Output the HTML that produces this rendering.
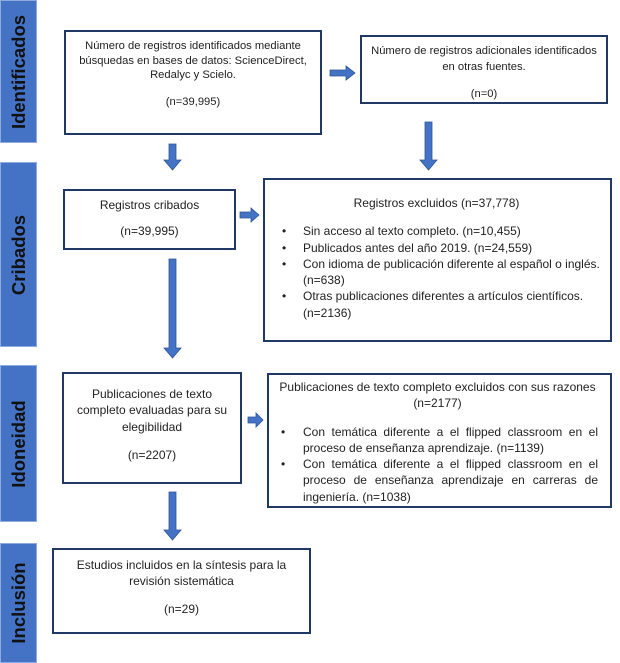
<!DOCTYPE html>
<html><head><meta charset="utf-8"><style>
body{margin:0;width:620px;height:663px;background:#fff;position:relative;overflow:hidden;font-family:"Liberation Sans",sans-serif;color:#222}
.bar{position:absolute;left:0;width:37px;background:#4472C4;border:1px solid #8faadc;box-sizing:border-box}
.bar span{position:absolute;left:50%;top:50%;transform:translate(-50%,-50%) rotate(-90deg);white-space:nowrap;font-weight:bold;font-size:18.5px;color:#111}
.box{position:absolute;border:2.5px solid #1F3864;box-sizing:border-box;font-size:12px;line-height:16.3px;text-align:center;padding:6px 6px}
.box p{margin:0}
ul{margin:4px 0 0 0;padding-left:0;list-style:none;text-align:left}
li{position:relative;padding-left:32px}
li:before{content:"•";position:absolute;left:11px}
.j li{text-align:justify;padding-left:28px}
.j li:before{left:6px}
svg{position:absolute;left:0;top:0}
</style></head><body>
<div class="bar" style="top:0;height:143px"><span>Identificados</span></div>
<div class="bar" style="top:162px;height:185px"><span>Cribados</span></div>
<div class="bar" style="top:365px;height:157px"><span>Idoneidad</span></div>
<div class="bar" style="top:543px;height:120px"><span>Inclusión</span></div>

<div class="box" style="left:64px;top:30px;width:258px;height:105px;padding-top:7px;font-size:11.2px;line-height:14.7px"><p>Número de registros identificados mediante búsquedas en bases de datos: ScienceDirect, Redalyc y Scielo.</p><p style="margin-top:12px">(n=39,995)</p></div>
<div class="box" style="left:360px;top:35px;width:248px;height:69px;padding-top:7px;font-size:11.2px;line-height:15.5px"><p>Número de registros adicionales identificados en otras fuentes.</p><p style="margin-top:12px">(n=0)</p></div>
<div class="box" style="left:63px;top:189px;width:173px;height:61px;padding-top:6px"><p>Registros cribados</p><p style="margin-top:10px">(n=39,995)</p></div>
<div class="box" style="left:263px;top:178px;width:349px;height:164px;padding-top:15px;padding-right:8px"><p>Registros excluidos (n=37,778)</p><ul style="margin-top:12px">
<li>Sin acceso al texto completo. (n=10,455)</li>
<li>Publicados antes del año 2019. (n=24,559)</li>
<li>Con idioma de publicación diferente al español o inglés. (n=638)</li>
<li>Otras publicaciones diferentes a artículos científicos. (n=2136)</li></ul></div>
<div class="box" style="left:62px;top:372px;width:180px;height:112px;padding-top:12px"><p>Publicaciones de texto completo evaluadas para su elegibilidad</p><p style="margin-top:12px">(n=2207)</p></div>
<div class="box j" style="left:267px;top:373px;width:345px;height:135px;padding:4px 10px 0 6px;overflow:hidden"><p>Publicaciones de texto completo excluidos con sus razones (n=2177)</p><ul style="margin-top:12px;padding-right:2px">
<li>Con temática diferente a el flipped classroom en el proceso de enseñanza aprendizaje. (n=1139)</li>
<li>Con temática diferente a el flipped classroom en el proceso de enseñanza aprendizaje en carreras de ingeniería. (n=1038)</li></ul></div>
<div class="box" style="left:52px;top:548px;width:259px;height:86px;padding-top:7px"><p>Estudios incluidos en la síntesis para la revisión sistemática</p><p style="margin-top:11px">(n=29)</p></div>

<svg width="620" height="663" fill="#4472C4" stroke="#2F5597" stroke-width="0.8">
<polygon points="169,144 176,144 176,160 181,160 172.5,170 164,160 169,160"/>
<polygon points="425,122 432,122 432,160 437,160 428.5,170 420,160 425,160"/>
<polygon points="169,259 176,259 176,348 181,348 172.5,358 164,348 169,348"/>
<polygon points="169,492 176,492 176,530 181,530 172.5,540 164,530 169,530"/>
<polygon points="330,70 346,70 346,66 355,73 346,80 346,76 330,76"/>
<polygon points="240,212 251,212 251,208 259,215 251,222 251,218 240,218"/>
<polygon points="248,417 256,417 256,413 263,420 256,427 256,423 248,423"/>
</svg>
</body></html>
